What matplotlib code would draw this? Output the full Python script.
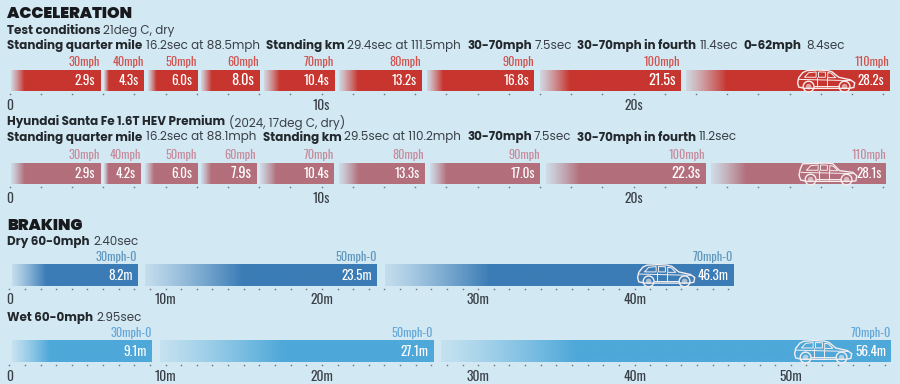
import matplotlib
matplotlib.use("Agg")
import matplotlib.pyplot as plt
import numpy as np
from matplotlib import font_manager as fm
from matplotlib.colors import to_rgb
from matplotlib.path import Path
from matplotlib.patches import PathPatch, Circle
from matplotlib.transforms import Affine2D

installed = {f.name for f in fm.fontManager.ttflist}
def pick(*names):
    for n in names:
        if n in installed:
            return n
    return "DejaVu Sans"
HEAD = pick("Poppins", "Montserrat", "Inter", "DejaVu Sans")
COND = pick("Oswald", "Bebas Neue", "Antonio", "Barlow Condensed", "Archivo Narrow")

BG = "#d2e8f3"
INK = "#23282d"
GREY = "#3a4047"

# ---- data ----
accel_labels = ["30mph", "40mph", "50mph", "60mph", "70mph", "80mph", "90mph", "100mph", "110mph"]
accel_test = [2.9, 4.3, 6.0, 8.0, 10.4, 13.2, 16.8, 21.5, 28.2]
accel_rival = [2.9, 4.2, 6.0, 7.9, 10.4, 13.3, 17.0, 22.3, 28.1]
accel_test_txt = ["2.9s", "4.3s", "6.0s", "8.0s", "10.4s", "13.2s", "16.8s", "21.5s", "28.2s"]
accel_rival_txt = ["2.9s", "4.2s", "6.0s", "7.9s", "10.4s", "13.3s", "17.0s", "22.3s", "28.1s"]
brake_labels = ["30mph-0", "50mph-0", "70mph-0"]
brake_dry = [8.2, 23.5, 46.3]
brake_wet = [9.1, 27.1, 56.4]
brake_dry_txt = ["8.2m", "23.5m", "46.3m"]
brake_wet_txt = ["9.1m", "27.1m", "56.4m"]
accel_ticks = [0, 10, 20]
accel_ticklabels = ["0", "10s", "20s"]
brake_ticks = [0, 10, 20, 30, 40]
brake_ticklabels = ["0", "10m", "20m", "30m", "40m"]
wet_ticks = [0, 10, 20, 30, 40, 50]
wet_ticklabels = ["0", "10m", "20m", "30m", "40m", "50m"]

fig = plt.figure(figsize=(9, 3.84), dpi=100, facecolor=BG)
W, H = 900.0, 384.0

page = fig.add_axes([0, 0, 1, 1], zorder=5)
page.set_xlim(0, W); page.set_ylim(H, 0); page.axis("off")

def runs(y, items, size=8.6):
    for x, txt, bold in items:
        page.text(x, y, txt, family=HEAD, fontsize=size,
                  fontweight="bold" if bold else "normal",
                  color=INK if bold else GREY, va="center", ha="left")

page.text(7, 14, "ACCELERATION", family=HEAD, fontsize=11.5, fontweight="black", color="#17191c", va="center")
runs(31, [(7, "Test conditions", True), (103, "21deg C, dry", False)])
runs(46, [(7, "Standing quarter mile", True), (146, "16.2sec at 88.5mph", False),
          (266, "Standing km", True), (347, "29.4sec at 111.5mph", False),
          (467, "30-70mph", True), (535, "7.5sec", False),
          (577, "30-70mph in fourth", True), (700, "11.4sec", False),
          (744, "0-62mph", True), (806, "8.4sec", False)])
runs(122, [(7, "Hyundai Santa Fe 1.6T HEV Premium", True), (229, "(2024, 17deg C, dry)", False)])
runs(137, [(7, "Standing quarter mile", True), (146, "16.2sec at 88.1mph", False),
           (263, "Standing km", True), (344, "29.5sec at 110.2mph", False),
           (467, "30-70mph", True), (534, "7.5sec", False),
           (577, "30-70mph in fourth", True), (699, "11.2sec", False)])
page.text(7, 226, "BRAKING", family=HEAD, fontsize=11.5, fontweight="black", color="#17191c", va="center")
runs(242, [(7, "Dry 60-0mph", True), (93, "2.40sec", False)])
runs(318, [(7, "Wet 60-0mph", True), (96, "2.95sec", False)])


def car(x0, top, w, h, boxy=False):
    """Outline icon, placed in pixel coordinates of the page axes."""
    tr = Affine2D().scale(w, h).translate(x0, top) + page.transData
    col = "#f6eeee"
    if boxy:
        upper = [(0.0, 0.58), (0.02, 0.30), (0.06, 0.04), (0.46, 0.0), (0.58, 0.03),
                 (0.70, 0.36), (0.93, 0.44), (0.995, 0.60), (0.98, 0.84), (0.90, 0.86)]
    else:
        upper = [(0.01, 0.60), (0.03, 0.36), (0.10, 0.12), (0.17, 0.03), (0.36, 0.0), (0.52, 0.02),
                 (0.60, 0.08), (0.72, 0.34), (0.92, 0.46), (0.995, 0.60), (0.98, 0.82), (0.90, 0.86)]
    pts = upper + [(0.74, 0.86), (0.28, 0.86), (0.13, 0.86), (0.03, 0.80), upper[0]]
    page.add_patch(PathPatch(Path(pts), fill=False, ec=col, lw=1.0, transform=tr, zorder=6))
    for seg in ([(0.13, 0.34), (0.20, 0.13), (0.33, 0.09), (0.33, 0.34), (0.13, 0.34)],
                [(0.37, 0.09), (0.49, 0.10), (0.49, 0.34), (0.37, 0.34), (0.37, 0.09)],
                [(0.53, 0.12), (0.59, 0.15), (0.67, 0.36), (0.53, 0.36), (0.53, 0.12)],
                [(0.35, 0.34), (0.35, 0.80)], [(0.51, 0.34), (0.51, 0.80)],
                [(0.30, 0.76), (0.72, 0.76)], [(0.03, 0.44), (0.94, 0.50)]):
        page.add_patch(PathPatch(Path(seg), fill=False, ec=col, lw=0.7, transform=tr, zorder=6))
    for cx in (0.20, 0.82):
        px = x0 + cx * w
        py = top + 0.78 * h
        page.add_patch(Circle((px, py), 5.4, fc="none", ec=col, lw=1.0, zorder=6))
        page.add_patch(Circle((px, py), 2.8, fc=col, ec="none", alpha=0.6, zorder=6))


def row(bar_top, bar_bot, x0, px_per, xmax, ends, labels, texts, ticks, ticklabels, color,
        labcolor, grad, dot_max, gaps, first_px, car_at, bold_idx=(3, 7), boxy=False):
    """One strip: bars share an x axis whose units are seconds or metres."""
    ax = fig.add_axes([x0 / W, 1 - bar_bot / H, px_per * xmax / W, (bar_bot - bar_top) / H])
    ax.patch.set_alpha(0)
    for s in ax.spines.values():
        s.set_visible(False)
    ax.set_yticks([])
    ax.set_xticks(ticks)
    ax.set_xticklabels(ticklabels, family=COND, fontsize=9.8, color=GREY)
    ax.tick_params(axis="x", which="major", length=0, pad=5.5)
    c = np.array(to_rgb(color))
    b = np.array(to_rgb(BG))
    start = first_px / px_per
    for i, (end, lab, txt) in enumerate(zip(ends, labels, texts)):
        t = np.linspace(0, 1, 300)
        g = np.clip(t / grad[i], 0, 1)
        g = 0.10 + 0.90 * g ** 1.15
        img = (b[None, :] * (1 - g[:, None]) + c[None, :] * g[:, None])[None, :, :]
        ax.imshow(img, extent=(start, end, 0, 1), aspect="auto", interpolation="bilinear", zorder=2)
        ax.annotate(lab, (end, 1), xytext=(0, 2.7), textcoords="offset points", ha="right", va="baseline",
                    family=COND, fontsize=8.8, color=labcolor, annotation_clip=False)
        heavy = i in bold_idx
        ax.annotate(txt, (end, 0.5), xytext=(-3.4, -0.2), textcoords="offset points", ha="right", va="center",
                    family=COND, fontsize=10.4 if heavy else 9.6, color="white",
                    fontweight="semibold" if heavy else "normal", zorder=4)
        if i < len(gaps):
            start = end + gaps[i] / px_per
    dots = np.arange(0, dot_max + 0.5, 1)
    ax.plot(dots, np.full(dots.shape, -3.0 / (bar_bot - bar_top)), ls="none", marker="s", ms=1.0,
            mew=0, color="#6a7178", clip_on=False, zorder=3)
    ax.set_xlim(0, xmax); ax.set_ylim(0, 1)
    if car_at is not None:
        car(car_at, bar_top + 0.3, 58, bar_bot - bar_top, boxy=boxy)
    return ax

RED, PINK, DBLUE, LBLUE = "#c7352f", "#b36f7b", "#3b7cb6", "#4ea8d9"
a_grad = [0.15, 0.12, 0.17, 0.18, 0.22, 0.23, 0.15, 0.21, 0.20]
a_gaps = [4, 4, 4, 4.5, 5, 6, 6, 6]
b_gaps = [8, 8]

row(69.7, 91, 9.5, 31.2, 28.4, accel_test, accel_labels, accel_test_txt, accel_ticks, accel_ticklabels,
    RED, "#d0524e", a_grad, 28, a_gaps, 1, 797)
row(162.7, 184, 9.5, 31.2, 28.4, accel_rival, accel_labels, accel_rival_txt, accel_ticks, accel_ticklabels,
    PINK, "#c78b9c", a_grad, 28, a_gaps, 1, 799, boxy=True)
row(264.3, 285.8, 9.3, 15.63, 46.4, brake_dry, brake_labels, brake_dry_txt, brake_ticks, brake_ticklabels,
    DBLUE, "#5f97bf", [0.27, 0.42, 0.30], 46, b_gaps, 3, 637, bold_idx=())
row(340.3, 362, 9.3, 15.63, 56.5, brake_wet, brake_labels, brake_wet_txt, wet_ticks, wet_ticklabels,
    LBLUE, "#63a7d8", [0.27, 0.45, 0.30], 56, b_gaps, 3, 794, bold_idx=())

fig.savefig("out.png", dpi=100, facecolor=BG)
